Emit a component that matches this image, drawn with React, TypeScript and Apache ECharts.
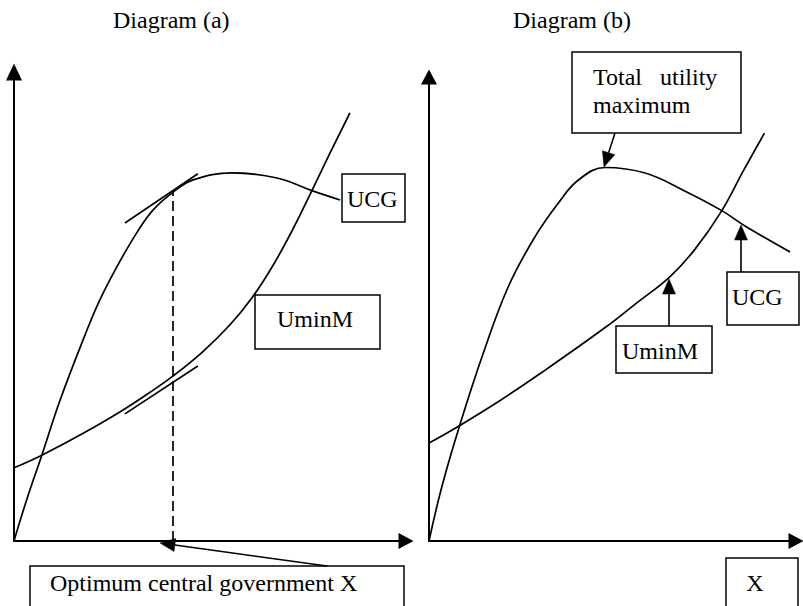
import React, { useEffect, useRef } from "react";
import * as echarts from "echarts";

// ---- Diagram (a) ----
const titleA = "Diagram (a)";
const ucgA: [number, number][] = [
  [0, 0], [3.2, 8.7], [7.1, 18.3], [11.7, 29.9], [18.1, 43.9], [21.9, 51.4],
  [26.2, 58.4], [31.3, 65.7], [35.5, 70.6], [40.6, 74.4], [45.7, 77.0],
  [55.6, 78.5], [67.1, 77.4], [76.0, 74.7], [83.2, 72.7],
];
const uminmA: [number, number][] = [
  [0, 15.6], [7.1, 18.3], [17.3, 22.8], [27.0, 27.5], [34.7, 31.7], [40.6, 35.2],
  [48.2, 40.4], [55.1, 46.1], [61.0, 52.2], [66.1, 58.8], [70.9, 66.1],
  [76.0, 74.7], [80.6, 82.7], [85.7, 91.3],
];
const tangentUcgA: [number, number][] = [[28.3, 67.8], [46.9, 78.3]];
const tangentUminmA: [number, number][] = [[28.3, 27.1], [46.9, 37.3]];
const optimumA: [number, number] = [40.6, 74.4];

// ---- Diagram (b) ----
const titleB = "Diagram (b)";
const ucgB: [number, number][] = [
  [0, 0], [3.5, 11.7], [8.4, 25.0], [14.8, 40.5], [21.6, 54.8], [28.9, 65.6],
  [35.2, 72.8], [40.7, 77.8], [48.0, 80.5], [58.9, 79.3], [69.8, 75.4],
  [79.8, 71.2], [86.1, 67.9], [98.4, 62.3],
];
const uminmB: [number, number][] = [
  [0, 21.1], [8.4, 24.9], [19.8, 30.5], [30.7, 36.3], [48.0, 46.0], [56.1, 51.0],
  [65.7, 57.0], [72.5, 62.9], [79.8, 71.2], [85.6, 79.7], [91.4, 87.9],
];
const maximumB: [number, number] = [48.0, 80.5];
const maximumBaseB = -1.3;

// ---- labels ----
const labelUCG = "UCG";
const labelUminM = "UminM";
const labelOptimum = "Optimum central government X";
const labelTotal1 = "Total   utility";
const labelTotal2 = "maximum";
const labelX = "X";

const FONT = '"Liberation Serif", "Times New Roman", serif';

function arrow(x1: number, y1: number, x2: number, y2: number, len = 15, half = 6.5) {
  const dx = x2 - x1, dy = y2 - y1;
  const d = Math.sqrt(dx * dx + dy * dy);
  const ux = dx / d, uy = dy / d;
  const bx = x2 - ux * len, by = y2 - uy * len;
  const px = -uy * half, py = ux * half;
  return [
    {
      type: "line",
      z: 110,
      shape: { x1, y1, x2: bx, y2: by },
      style: { stroke: "#000", lineWidth: 1.6 },
    },
    {
      type: "polygon",
      z: 110,
      shape: { points: [[x2, y2], [bx + px, by + py], [bx - px, by - py]] },
      style: { fill: "#000", stroke: "#000", lineWidth: 0.5 },
    },
  ];
}

function box(x: number, y: number, w: number, h: number) {
  return {
    type: "rect",
    z: 100,
    shape: { x, y, width: w, height: h },
    style: { fill: "#fff", stroke: "#000", lineWidth: 1.5 },
  };
}

function label(text: string, x: number, y: number, align = "left") {
  return {
    type: "text",
    z: 120,
    x,
    y,
    style: {
      text,
      fontSize: 24,
      fontFamily: FONT,
      fill: "#000",
      align,
      verticalAlign: "middle",
    },
  };
}

function curve(data: [number, number][], idx: number, extra: any = {}) {
  return {
    type: "line",
    xAxisIndex: idx,
    yAxisIndex: idx,
    data,
    smooth: 0.4,
    symbol: "none",
    showSymbol: false,
    silent: true,
    lineStyle: { color: "#000", width: 1.7 },
    ...extra,
  };
}

function straight(data: [number, number][], idx: number) {
  return {
    type: "line",
    xAxisIndex: idx,
    yAxisIndex: idx,
    data,
    smooth: false,
    symbol: "none",
    showSymbol: false,
    silent: true,
    lineStyle: { color: "#000", width: 1.7 },
  };
}

function dashed(x: number, y0: number, y1: number) {
  return {
    silent: true,
    symbol: "none",
    label: { show: false },
    lineStyle: { color: "#000", width: 1.7, type: [10, 5] },
    data: [[{ coord: [x, y0] }, { coord: [x, y1] }]],
  };
}

const axisCommon = {
  type: "value",
  min: 0,
  max: 100,
  axisTick: { show: false },
  axisLabel: { show: false },
  splitLine: { show: false },
};

function axisLine(size: [number, number]) {
  return {
    show: true,
    onZero: false,
    symbol: ["none", "triangle"],
    symbolSize: size,
    lineStyle: { color: "#000", width: 2 },
  };
}

export default function App() {
  const ref = useRef<HTMLDivElement>(null);

  useEffect(() => {
    if (!ref.current) return;
    const chart = echarts.init(ref.current, undefined, { renderer: "svg" });
    chart.setOption({
      animation: false,
      backgroundColor: "#fff",
      grid: [
        { left: 14, top: 72, width: 392, height: 469 },
        { left: 429, top: 77, width: 367, height: 464 },
      ],
      xAxis: [
        { ...axisCommon, gridIndex: 0, axisLine: axisLine([16, 15]) },
        { ...axisCommon, gridIndex: 1, axisLine: axisLine([16, 15]) },
      ],
      yAxis: [
        { ...axisCommon, gridIndex: 0, axisLine: axisLine([16, 17]) },
        { ...axisCommon, gridIndex: 1, axisLine: axisLine([16, 15]) },
      ],
      series: [
        curve(ucgA, 0, { markLine: dashed(optimumA[0], 0, optimumA[1]) }),
        curve(uminmA, 0),
        straight(tangentUcgA, 0),
        straight(tangentUminmA, 0),
        curve(ucgB, 1, { clip: false, markLine: dashed(maximumB[0], maximumBaseB, maximumB[1]) }),
        curve(uminmB, 1),
      ],
      graphic: [
        label(titleA, 113, 20),
        label(titleB, 513, 20),
        // Diagram (a) boxes
        box(342, 174, 63, 48),
        label(labelUCG, 347, 199),
        box(255, 295, 125, 54),
        label(labelUminM, 277, 319),
        box(30, 566, 374, 60),
        label(labelOptimum, 50, 583),
        ...arrow(327, 566, 160, 543),
        // Diagram (b) boxes
        box(572, 52, 169, 81),
        label(labelTotal1, 593, 77),
        label(labelTotal2, 593, 105),
        ...arrow(615, 133, 604, 167),
        box(616, 326, 96, 47),
        label(labelUminM, 622, 351),
        ...arrow(669, 326, 669, 279),
        box(727, 272, 72, 53),
        label(labelUCG, 732, 297),
        ...arrow(741, 272, 741, 225),
        box(726, 558, 72, 70),
        label(labelX, 755, 583, "center"),
      ],
    });
    return () => chart.dispose();
  }, []);

  return (
    <div
      ref={ref}
      style={{ position: "fixed", left: 0, top: 0, width: 803, height: 606, background: "#fff" }}
    />
  );
}
